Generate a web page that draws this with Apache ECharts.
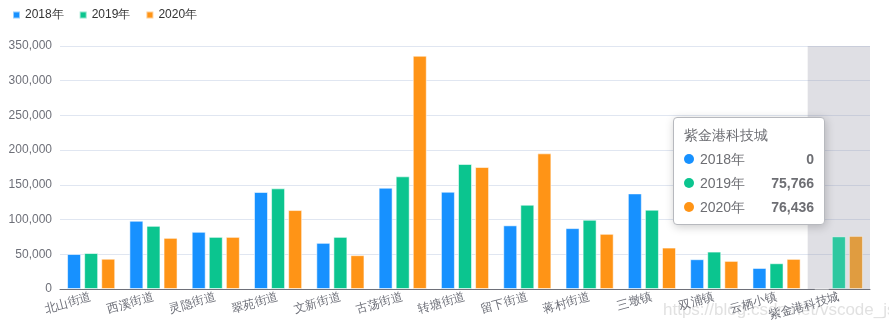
<!DOCTYPE html>
<html>
<head>
<meta charset="utf-8">
<script src="https://cdn.jsdelivr.net/npm/echarts@6/dist/echarts.min.js"></script>
<style>
html,body{margin:0;padding:0;background:#fff;}
#main{width:889px;height:332px;}
</style>
</head>
<body>
<div id="main"></div>
<script>
var categories = ['北山街道','西溪街道','灵隐街道','翠苑街道','文新街道','古荡街道','转塘街道','留下街道','蒋村街道','三墩镇','双浦镇','云栖小镇','紫金港科技城'];
var seriesNames = ['2018年','2019年','2020年'];
var data2018 = [50400, 98300, 82400, 139700, 66500, 145900, 140100, 91700, 87700, 137700, 42900, 30300, 0];
var data2019 = [51800, 91000, 75100, 145000, 75100, 162300, 180000, 121400, 99700, 114200, 53900, 37100, 75766];
var data2020 = [43600, 73700, 75100, 113700, 48700, 336000, 175700, 195400, 79500, 59700, 40500, 43400, 76436];
var colors = ['#1791ff', '#0bc58f', '#ff9416'];
var emphasisColors = ['#3a9ff0', '#2ec8a0', '#e09c40'];
var yTicks = [0, 50000, 100000, 150000, 200000, 250000, 300000, 350000];

var chart = echarts.init(document.getElementById('main'));
function fmt(v){ return String(v).replace(/\B(?=(\d{3})+(?!\d))/g, ','); }
var allData = [data2018, data2019, data2020];
var series = allData.map(function(d, i){
  return {
    name: seriesNames[i],
    type: 'bar',
    barWidth: 14,
    barGap: '22%',
    z: 3,
    data: d,
    itemStyle: { color: colors[i], borderColor: 'rgba(255,255,255,0.55)', borderWidth: 1 },
    emphasis: { itemStyle: { color: emphasisColors[i], borderColor: 'rgba(255,255,255,0.4)', borderWidth: 1 } }
  };
});
chart.setOption({
  animation: false,
  color: colors,
  legend: {
    left: 7, top: 4,
    icon: 'rect',
    itemWidth: 7, itemHeight: 7,
    itemGap: 15,
    textStyle: { fontSize: 12, color: '#333' },
    data: seriesNames
  },
  tooltip: {
    trigger: 'axis',
    alwaysShowContent: true,
    axisPointer: { type: 'shadow', z: 1, shadowStyle: { color: 'rgba(150,150,165,0.3)' } },
    position: [673, 117],
    extraCssText: 'width:130px;',
    valueFormatter: function(v){ return fmt(v); }
  },
  grid: { left: 60, right: 19, top: 46, bottom: 43 },
  xAxis: {
    type: 'category',
    data: categories,
    axisLabel: { interval: 0, rotate: 15, fontSize: 12, color: '#6e7079' },
    axisLine: { lineStyle: { color: '#6e7079' } }
  },
  yAxis: {
    type: 'value',
    min: yTicks[0],
    max: yTicks[yTicks.length - 1],
    interval: yTicks[1] - yTicks[0],
    axisLabel: { fontSize: 12, color: '#6e7079', formatter: function(v){ return fmt(v); } },
    splitLine: { lineStyle: { color: '#e0e6f1' } }
  },
  graphic: [{
    type: 'text', left: 663, top: 302, z: -1, silent: true,
    style: { text: 'https://blog.csdn.net/vscode_js', fontSize: 17, fill: 'rgba(200,200,200,0.55)', fontFamily: 'Liberation Sans, Arial, sans-serif' }
  }],
  series: series
});
chart.dispatchAction({ type: 'showTip', seriesIndex: 1, dataIndex: 12 });
</script>
</body>
</html>
